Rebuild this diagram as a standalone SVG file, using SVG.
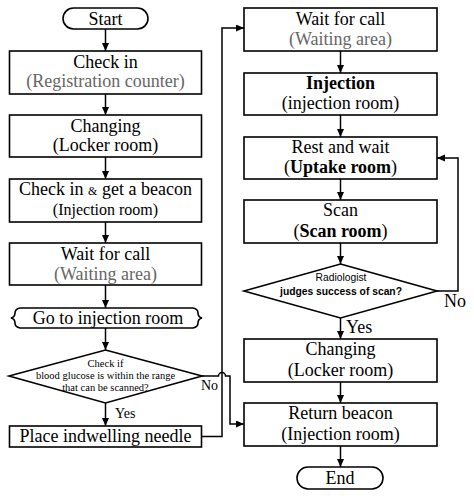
<svg xmlns="http://www.w3.org/2000/svg" width="474" height="498" viewBox="0 0 474 498">
<style>
.box{fill:#fff;stroke:#000;stroke-width:1.6}
.ln{fill:none;stroke:#000;stroke-width:1.5}
text{font-family:"Liberation Serif","Times New Roman",serif;font-size:18px;fill:#000;text-anchor:middle}
.g{fill:#666}
.b{font-weight:bold}
.sm{font-size:10.5px}
.sans{font-family:"Liberation Sans",Arial,sans-serif;font-size:10.3px}
.lbl{text-anchor:start}
</style>
<defs>
<marker id="ah" markerUnits="userSpaceOnUse" markerWidth="9" markerHeight="8" refX="8" refY="3.5" orient="auto">
<path d="M0,0 L8,3.5 L0,7 z" fill="#000"/>
</marker>
</defs>
<rect width="474" height="498" fill="#fff"/>
<g id="connectors">
<path class="ln" marker-end="url(#ah)" d="M105.5,29 V51"/>
<path class="ln" marker-end="url(#ah)" d="M105.5,94 V115"/>
<path class="ln" marker-end="url(#ah)" d="M105.5,157 V179"/>
<path class="ln" marker-end="url(#ah)" d="M105.5,222 V243"/>
<path class="ln" marker-end="url(#ah)" d="M105.5,285 V308"/>
<path class="ln" marker-end="url(#ah)" d="M105.5,328 V350"/>
<path class="ln" marker-end="url(#ah)" d="M105.5,403 V426"/>
<path class="ln" marker-end="url(#ah)" d="M340.5,51 V73"/>
<path class="ln" marker-end="url(#ah)" d="M340.5,115 V137"/>
<path class="ln" marker-end="url(#ah)" d="M340.5,179 V200"/>
<path class="ln" marker-end="url(#ah)" d="M340.5,243 V264"/>
<path class="ln" marker-end="url(#ah)" d="M340.5,318 V339"/>
<path class="ln" marker-end="url(#ah)" d="M340.5,382 V403"/>
<path class="ln" marker-end="url(#ah)" d="M340.5,446 V467"/>
<path class="ln" marker-end="url(#ah)" d="M437,291 H458 V158 H437"/>
<path class="ln" marker-end="url(#ah)" d="M202,436.5 H222 V28 H244"/>
<path class="ln" marker-end="url(#ah)" d="M202,376 H218.5 A3.5,3.5 0 0 1 225.5,376 H230 V424 H244"/>
<text class="lbl" x="115" y="418" style="font-size:14px">Yes</text>
<text class="lbl" x="201" y="390" style="font-size:14px">No</text>
<text class="lbl" x="346" y="333">Yes</text>
<text class="lbl" x="444" y="307">No</text>
</g>
<g id="start">
<rect class="box" x="63" y="8" width="85" height="21" rx="10.5"/>
<text x="105.5" y="25">Start</text>
</g>
<g id="checkin">
<rect class="box" x="9.5" y="51" width="192" height="43"/>
<text x="105.5" y="68">Check in</text>
<text x="105.5" y="87" class="g">(Registration counter)</text>
</g>
<g id="changing1">
<rect class="box" x="9.5" y="115" width="192" height="42"/>
<text x="105.5" y="132">Changing</text>
<text x="105.5" y="151">(Locker room)</text>
</g>
<g id="beacon">
<rect class="box" x="9.5" y="179" width="192" height="43"/>
<text x="105.5" y="195">Check in <tspan style="font-size:12px">&amp;</tspan> get a beacon</text>
<text x="105.5" y="215" style="font-size:16px">(Injection room)</text>
</g>
<g id="wait1">
<rect class="box" x="9.5" y="243" width="192" height="42"/>
<text x="105.5" y="260">Wait for call</text>
<text x="105.5" y="280" class="g">(Waiting area)</text>
</g>
<g id="goto">
<path class="box" d="M20,308 H193 Q198,309 198,313 Q198,317 202,318 Q198,319 198,323 Q198,327 193,328 H20 Q15,327 15,323 Q15,319 11,318 Q15,317 15,313 Q15,309 20,308 Z"/>
<text x="108" y="324">Go to injection room</text>
</g>
<g id="glucose">
<path class="box" d="M105.5,350 L202,376 L105.5,403 L9,376 Z"/>
<text class="sm" x="105.5" y="367">Check if</text>
<text class="sm" x="105.5" y="379">blood glucose is within the range</text>
<text class="sm" x="105.5" y="391">that can be scanned?</text>
</g>
<g id="needle">
<rect class="box" x="9.5" y="426" width="192" height="21"/>
<text x="105.5" y="442">Place indwelling needle</text>
</g>
<g id="wait2">
<rect class="box" x="244" y="8" width="193" height="43"/>
<text x="340.5" y="25">Wait for call</text>
<text x="340.5" y="45" class="g">(Waiting area)</text>
</g>
<g id="injection">
<rect class="box" x="244" y="73" width="193" height="42"/>
<text x="340.5" y="89" class="b">Injection</text>
<text x="340.5" y="109">(injection room)</text>
</g>
<g id="rest">
<rect class="box" x="244" y="137" width="193" height="42"/>
<text x="340.5" y="153">Rest and wait</text>
<text x="340.5" y="173">(<tspan class="b">Uptake room</tspan>)</text>
</g>
<g id="scan">
<rect class="box" x="244" y="200" width="193" height="43"/>
<text x="340.5" y="216">Scan</text>
<text x="340.5" y="237">(<tspan class="b">Scan room</tspan>)</text>
</g>
<g id="judge">
<path class="box" d="M340.5,264 L437,291 L340.5,318 L244,291 Z"/>
<text class="sans" x="341" y="281">Radiologist</text>
<text class="sans b" x="341" y="295">judges success of scan?</text>
</g>
<g id="changing2">
<rect class="box" x="244" y="339" width="193" height="43"/>
<text x="340.5" y="355">Changing</text>
<text x="340.5" y="376">(Locker room)</text>
</g>
<g id="return">
<rect class="box" x="244" y="403" width="193" height="43"/>
<text x="340.5" y="419">Return beacon</text>
<text x="340.5" y="440">(Injection room)</text>
</g>
<g id="end">
<rect class="box" x="297" y="467" width="86" height="22" rx="11"/>
<text x="340" y="484">End</text>
</g>
</svg>
